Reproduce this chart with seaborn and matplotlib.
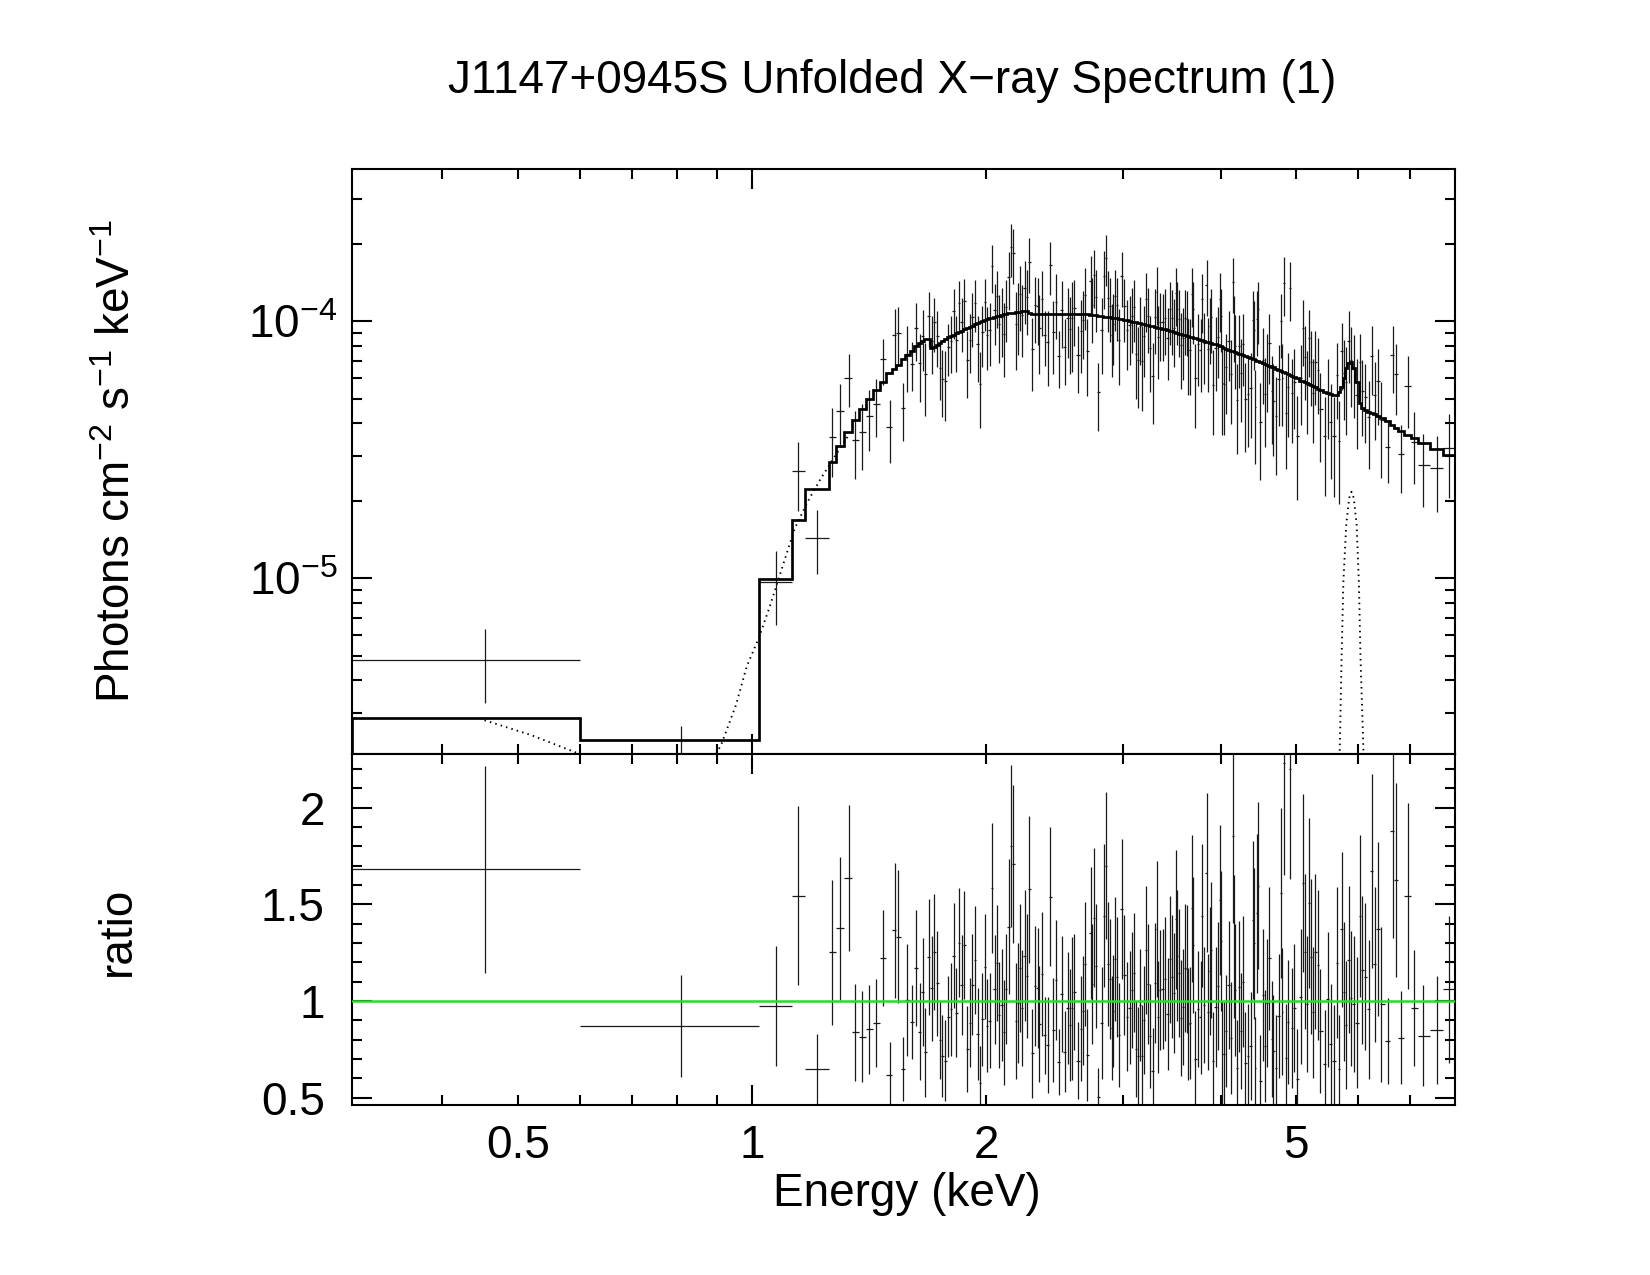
import numpy as np
import pandas as pd
import seaborn as sns
import matplotlib.pyplot as plt
from matplotlib.ticker import FixedLocator, FuncFormatter, NullFormatter, LogLocator, MultipleLocator

sns.set_theme(style="ticks")
plt.rcParams['font.family'] = ['Liberation Sans', 'DejaVu Sans']
plt.rcParams['mathtext.fontset'] = 'custom'
plt.rcParams['mathtext.rm'] = 'Liberation Sans'
plt.rcParams['font.size'] = 22
for key in ('text.color', 'axes.labelcolor', 'xtick.color', 'ytick.color',
            'xtick.labelcolor', 'ytick.labelcolor', 'axes.edgecolor'):
    plt.rcParams[key] = 'black'

# bin edges of the five wide low-energy bins (keV)
wide_edges = [0.306, 0.600, 1.021, 1.124, 1.168, 1.256]

# bin centres (keV)
energy = [
    0.453, 0.810, 1.072, 1.146, 1.212,
    1.268, 1.298, 1.330, 1.357, 1.386, 1.415, 1.444, 1.473, 1.502, 1.525, 1.539,
    1.563, 1.583, 1.605, 1.626, 1.642, 1.656, 1.670, 1.686, 1.700, 1.715, 1.730,
    1.745, 1.755, 1.771, 1.787, 1.801, 1.815, 1.829, 1.844, 1.860, 1.873, 1.890,
    1.905, 1.918, 1.933, 1.949, 1.962, 1.976, 1.991, 2.005, 2.019, 2.033, 2.049,
    2.063, 2.077, 2.092, 2.106, 2.121, 2.135, 2.150, 2.165, 2.182, 2.197, 2.210,
    2.223, 2.239, 2.252, 2.268, 2.290, 2.311, 2.327, 2.340, 2.357, 2.377, 2.399,
    2.415, 2.437, 2.456, 2.478, 2.500, 2.522, 2.547, 2.562, 2.578, 2.595, 2.624,
    2.647, 2.665, 2.676, 2.697, 2.724, 2.734, 2.748, 2.762, 2.786, 2.817, 2.836,
    2.850, 2.867, 2.879, 2.896, 2.910, 2.925, 2.939, 2.960, 2.984, 3.008, 3.029,
    3.056, 3.078, 3.096, 3.112, 3.131, 3.150, 3.172, 3.191, 3.207, 3.224, 3.243,
    3.273, 3.293, 3.309, 3.323, 3.343, 3.370, 3.390, 3.418, 3.446, 3.459, 3.484,
    3.502, 3.519, 3.537, 3.555, 3.577, 3.599, 3.620, 3.635, 3.650, 3.676, 3.687,
    3.709, 3.743, 3.770, 3.785, 3.808, 3.839, 3.854, 3.870, 3.885, 3.913, 3.940,
    3.972, 3.988, 4.004,
    4.017, 4.040, 4.064, 4.096, 4.129, 4.149, 4.166, 4.178, 4.203, 4.228, 4.253,
    4.274, 4.304, 4.338, 4.372, 4.398, 4.411, 4.433, 4.455, 4.472, 4.499, 4.535,
    4.562, 4.593, 4.620, 4.652, 4.675, 4.712, 4.750, 4.778, 4.801, 4.820, 4.854,
    4.888, 4.917, 4.941, 4.975, 5.010, 5.075, 5.105, 5.135, 5.166, 5.191, 5.222,
    5.253, 5.295, 5.332, 5.374, 5.439, 5.493, 5.537, 5.598, 5.648, 5.677,
    5.726, 5.754, 5.794, 5.846, 5.880, 5.933, 5.986, 6.045, 6.080, 6.135, 6.201,
    6.256, 6.306, 6.369, 6.433, 6.561, 6.657, 6.716, 6.813, 6.953, 7.078, 7.268,
    7.582, 7.864,
]

# data / model ratio
ratio = [
    1.681, 0.871, 0.972, 1.545, 0.648,
    1.252, 1.376, 1.636, 0.838, 0.814, 0.853, 0.886, 1.222, 0.617, 1.365, 1.333,
    0.647, 1.005, 0.890, 1.172, 0.841, 1.048, 0.735, 1.226, 1.065, 1.255, 1.091,
    0.798, 0.716, 0.691, 0.919, 0.957, 1.234, 0.940, 1.302, 1.083, 1.290, 0.752,
    0.888, 1.084, 1.212, 0.829, 0.578, 0.905, 1.178, 0.872, 0.898, 1.584, 1.060,
    1.198, 0.928, 0.979, 0.838, 1.062, 1.384, 1.801, 1.708, 0.898, 0.988, 1.172,
    0.966, 1.234, 1.129, 1.577, 0.729, 1.079, 1.067, 0.881, 1.140, 0.822, 0.772,
    1.539, 0.850, 1.109, 0.683, 1.034, 0.738, 0.962, 0.874, 0.962, 1.047, 0.691,
    0.857, 0.950, 1.191, 0.721, 1.350, 1.090, 1.430, 1.180, 0.505, 0.888, 1.441,
    1.698, 1.193, 1.112, 0.859, 0.948, 1.215, 1.126, 0.824, 1.476, 1.134, 0.919,
    0.966, 1.057, 1.147, 0.752, 0.717, 0.979, 0.717, 0.902, 1.264, 1.086, 0.819,
    0.638, 1.095, 1.371, 0.919, 1.057, 1.062, 1.112, 0.931, 1.215, 1.126, 1.040,
    1.422, 1.234, 1.143, 0.910, 0.967, 1.169, 1.165, 0.881, 0.885, 1.479, 1.290,
    0.698, 0.957, 0.915, 1.440, 0.979, 1.664, 0.941, 1.155, 1.264, 0.691, 0.971,
    1.078, 1.522, 1.310,
    0.724, 0.726, 0.845, 1.083, 0.807, 1.853, 1.281, 1.057, 0.652, 1.074, 0.845,
    1.100, 0.681, 0.716, 0.767, 1.419, 1.298, 0.655, 1.453, 1.596, 0.586, 1.031,
    0.767, 0.988, 1.221, 0.802, 0.741, 0.655, 0.924, 1.557, 0.945, 2.232, 0.704,
    0.890, 2.200, 0.859, 0.962, 0.595, 1.022, 1.612, 1.255, 0.984, 1.508, 1.229,
    0.941, 1.255, 1.186, 0.845, 0.674, 1.009, 0.778, 0.691, 1.198, 0.647,
    1.371, 1.048, 0.876, 1.212, 1.014, 0.984, 0.888, 1.440, 1.160, 1.126, 0.957,
    1.672, 1.190, 1.372, 0.983, 0.793, 1.876, 1.626, 0.810, 1.543, 0.962, 0.821,
    0.850, 1.060,
]

# 1-sigma error on the ratio
ratio_err = [
    0.535, 0.262, 0.310, 0.465, 0.180,
    0.375, 0.370, 0.377, 0.250, 0.235, 0.230, 0.225, 0.250, 0.170, 0.350, 0.345,
    0.165, 0.290, 0.190, 0.300, 0.250, 0.280, 0.230, 0.300, 0.270, 0.300, 0.270,
    0.200, 0.210, 0.210, 0.210, 0.240, 0.270, 0.230, 0.280, 0.260, 0.280, 0.220,
    0.230, 0.260, 0.280, 0.240, 0.190, 0.240, 0.270, 0.240, 0.245, 0.335, 0.280,
    0.300, 0.275, 0.290, 0.270, 0.285, 0.350, 0.420, 0.410, 0.300, 0.310, 0.330,
    0.300, 0.340, 0.320, 0.380, 0.230, 0.310, 0.310, 0.300, 0.320, 0.200, 0.250,
    0.360, 0.270, 0.310, 0.170, 0.300, 0.210, 0.290, 0.290, 0.370, 0.300, 0.200,
    0.270, 0.280, 0.320, 0.240, 0.340, 0.310, 0.360, 0.320, 0.150, 0.290, 0.370,
    0.380, 0.320, 0.310, 0.270, 0.290, 0.320, 0.310, 0.270, 0.360, 0.310, 0.280,
    0.290, 0.300, 0.310, 0.250, 0.250, 0.290, 0.260, 0.280, 0.330, 0.310, 0.270,
    0.220, 0.310, 0.350, 0.290, 0.310, 0.310, 0.320, 0.290, 0.330, 0.320, 0.310,
    0.360, 0.340, 0.330, 0.300, 0.300, 0.330, 0.330, 0.290, 0.290, 0.380, 0.350,
    0.250, 0.300, 0.290, 0.370, 0.300, 0.410, 0.300, 0.330, 0.350, 0.250, 0.310,
    0.330, 0.390, 0.360,
    0.270, 0.270, 0.290, 0.330, 0.290, 0.450, 0.370, 0.340, 0.250, 0.340, 0.300,
    0.340, 0.260, 0.270, 0.280, 0.410, 0.390, 0.260, 0.410, 0.430, 0.240, 0.340,
    0.290, 0.330, 0.370, 0.300, 0.290, 0.270, 0.320, 0.440, 0.330, 0.580, 0.280,
    0.320, 0.570, 0.310, 0.330, 0.260, 0.350, 0.460, 0.400, 0.350, 0.440, 0.400,
    0.340, 0.400, 0.390, 0.320, 0.280, 0.350, 0.310, 0.290, 0.390, 0.280,
    0.400, 0.360, 0.330, 0.380, 0.350, 0.350, 0.340, 0.420, 0.380, 0.380, 0.360,
    0.500, 0.400, 0.450, 0.400, 0.220, 0.550, 0.500, 0.240, 0.480, 0.300, 0.260,
    0.280, 0.380,
]

# folded best-fit model in each bin (1e-5 photons cm^-2 s^-1 keV^-1)
model = [
    0.285, 0.234, 0.993, 1.69, 2.22,
    2.83, 3.26, 3.69, 4.12, 4.56, 5.00, 5.38, 5.81, 6.28, 6.50, 6.75,
    7.10, 7.40, 7.67, 8.00, 8.20, 8.35, 8.50, 8.55, 7.85, 7.95, 8.05,
    8.25, 8.35, 8.50, 8.65, 8.77, 8.87, 8.97, 9.08, 9.20, 9.30, 9.42,
    9.53, 9.62, 9.72, 9.83, 9.90, 10.00, 10.10, 10.18, 10.26, 10.32, 10.39,
    10.45, 10.52, 10.58, 10.64, 10.70, 10.74, 10.77, 10.80, 10.84, 10.87, 10.90,
    10.92, 10.94, 10.96, 10.80, 10.72, 10.72, 10.72, 10.72, 10.72, 10.72, 10.72,
    10.72, 10.72, 10.72, 10.72, 10.72, 10.72, 10.72, 10.72, 10.72, 10.72, 10.72,
    10.70, 10.68, 10.66, 10.63, 10.59, 10.57, 10.55, 10.53, 10.49, 10.44, 10.41,
    10.39, 10.37, 10.35, 10.32, 10.30, 10.28, 10.26, 10.22, 10.17, 10.12, 10.07,
    10.01, 9.96, 9.92, 9.89, 9.85, 9.81, 9.77, 9.73, 9.69, 9.66, 9.62,
    9.56, 9.51, 9.48, 9.45, 9.40, 9.34, 9.29, 9.23, 9.17, 9.14, 9.08,
    9.04, 9.01, 8.96, 8.92, 8.87, 8.82, 8.77, 8.74, 8.71, 8.66, 8.64,
    8.59, 8.52, 8.47, 8.44, 8.39, 8.33, 8.30, 8.27, 8.24, 8.19, 8.13,
    8.07, 8.04, 8.01,
    7.93, 7.88, 7.83, 7.76, 7.69, 7.65, 7.61, 7.59, 7.54, 7.49, 7.43,
    7.39, 7.33, 7.26, 7.19, 7.14, 7.11, 7.07, 7.02, 6.99, 6.94, 6.87,
    6.82, 6.76, 6.71, 6.65, 6.61, 6.54, 6.47, 6.42, 6.37, 6.34, 6.27,
    6.21, 6.15, 6.11, 6.05, 5.99, 5.88, 5.83, 5.78, 5.73, 5.69, 5.64,
    5.59, 5.53, 5.47, 5.41, 5.32, 5.26, 5.22, 5.18, 5.17, 5.30,
    5.57, 6.00, 6.60, 6.90, 6.97, 6.60, 5.80, 4.80, 4.60, 4.51, 4.45,
    4.40, 4.35, 4.28, 4.20, 4.09, 3.95, 3.85, 3.75, 3.62, 3.51, 3.37,
    3.17, 3.02,
]

# dotted model components
pl_energy = [0.453, 0.52, 0.595, 0.70, 0.80, 0.88, 0.912, 0.953, 0.984, 1.020,
             1.051, 1.098, 1.134, 1.179, 1.225, 1.279, 1.330]
pl_flux = [2.80e-6, 2.45e-6, 2.09e-6, 1.75e-6, 1.60e-6, 1.85e-6, 2.24e-6, 3.20e-6,
           4.53e-6, 5.86e-6, 7.59e-6, 1.15e-5, 1.56e-5, 1.99e-5, 2.44e-5, 3.00e-5, 3.60e-5]
line_energy = [5.65, 5.69, 5.72, 5.75, 5.80, 5.85, 5.89, 5.93, 5.98, 6.02, 6.05, 6.10, 6.14]
line_flux = [1.0e-6, 2.2e-6, 4.86e-6, 9.66e-6, 1.62e-5, 2.05e-5, 2.17e-5, 2.05e-5,
             1.62e-5, 9.66e-6, 4.86e-6, 2.2e-6, 1.0e-6]

# ---- derived quantities
df = pd.DataFrame({'E': energy, 'ratio': ratio, 'rerr': ratio_err,
                   'model': np.array(model) * 1e-5})
nw = len(wide_edges) - 1
cen = df['E'].to_numpy()
mids = (cen[nw:-1] + cen[nw + 1:]) / 2
edges = np.concatenate([wide_edges, mids, [8.0]])
df['lo'] = cen - edges[:-1]
df['hi'] = edges[1:] - cen
df['flux'] = df['ratio'] * df['model']
df['ferr'] = df['rerr'] * df['model']

fig = plt.figure(figsize=(11, 8.5), dpi=150)
fig.patch.set_facecolor('white')
ax1 = fig.add_axes([0.2133, 0.4090, 0.6685, 0.4588])
ax2 = fig.add_axes([0.2133, 0.1333, 0.6685, 0.2757])

bar_kw = dict(fmt='none', ecolor='#1a1a1a', elinewidth=0.6, capsize=0, zorder=2)

# upper panel: unfolded spectrum
ax1.errorbar(df['E'], df['flux'], xerr=[df['lo'], df['hi']], yerr=df['ferr'], **bar_kw)
ax1.stairs(df['model'], edges, color='black', linewidth=1.3, zorder=3)
sns.lineplot(x=pl_energy, y=pl_flux, ax=ax1, color='black', linewidth=0.9,
             linestyle=(0, (0.8, 2.2)), sort=False, zorder=1)
sns.lineplot(x=line_energy, y=line_flux, ax=ax1, color='black', linewidth=0.9,
             linestyle=(0, (0.8, 2.2)), sort=False, zorder=1)

# lower panel: ratio
ax2.errorbar(df['E'], df['ratio'], xerr=[df['lo'], df['hi']], yerr=df['rerr'], **bar_kw)
ax2.axhline(1.0, color='#22e022', linewidth=1.2, zorder=3)

for ax in (ax1, ax2):
    ax.set_xscale('log')
    ax.set_xlim(0.306, 8.0)
    ax.xaxis.set_major_locator(FixedLocator([1.0]))
    ax.xaxis.set_minor_locator(FixedLocator([0.4, 0.5, 0.6, 0.7, 0.8, 0.9,
                                             2, 3, 4, 5, 6, 7]))
    ax.tick_params(which='both', direction='in', top=True, right=True,
                   width=1.0, color='black', labelcolor='black')
    ax.tick_params(which='major', length=9.5)
    ax.tick_params(which='minor', length=4.6)
    for sp in ax.spines.values():
        sp.set_linewidth(1.0)
        sp.set_color('black')
    ax.set_facecolor('white')
    ax.grid(False)
    ax.set_xlabel('')
    ax.set_ylabel('')

ax1.set_yscale('log')
ax1.set_ylim(2.077e-6, 3.93e-4)
ax1.yaxis.set_major_locator(LogLocator(base=10))
ax1.yaxis.set_minor_locator(LogLocator(base=10, subs=np.arange(2, 10)))
ax1.yaxis.set_major_formatter(FuncFormatter(
    lambda v, p: r'$\mathregular{10^{%d}}$' % round(np.log10(v))))
ax1.yaxis.set_minor_formatter(NullFormatter())
ax1.xaxis.set_major_formatter(NullFormatter())
ax1.xaxis.set_minor_formatter(NullFormatter())
ax1.tick_params(axis='y', which='major', labelsize=22, pad=7)

ax2.set_ylim(0.462, 2.279)
ax2.yaxis.set_major_locator(MultipleLocator(0.5))
ax2.yaxis.set_minor_locator(MultipleLocator(0.1))
ax2.yaxis.set_major_formatter(FuncFormatter(lambda v, p: f'{v:g}'))
ax2.xaxis.set_major_formatter(FuncFormatter(lambda v, p: f'{v:g}'))


def minor_lab(v, pos):
    s = f'{v:g}'
    return s if s in ('0.5', '2', '5') else ''


ax2.xaxis.set_minor_formatter(FuncFormatter(minor_lab))
ax2.tick_params(axis='y', which='major', labelsize=22, pad=13)
ax2.tick_params(axis='x', which='both', labelsize=22, pad=9)

fig.suptitle('J1147+0945S Unfolded X\u2212ray Spectrum (1)', y=0.9365, va='center',
             fontsize=22, x=0.541, color='black')
fig.text(0.0715, 0.6384,
         r'Photons cm$\mathregular{^{-2}}$ s$\mathregular{^{-1}}$ keV$\mathregular{^{-1}}$',
         rotation=90, ha='center', va='center', fontsize=22, color='black')
fig.text(0.0715, 0.2698, 'ratio', rotation=90, ha='center', va='center',
         fontsize=22, color='black')
fig.text(0.5495, 0.0635, 'Energy (keV)', ha='center', va='center', fontsize=22,
         color='black')

fig.savefig('out.png', dpi=150)
